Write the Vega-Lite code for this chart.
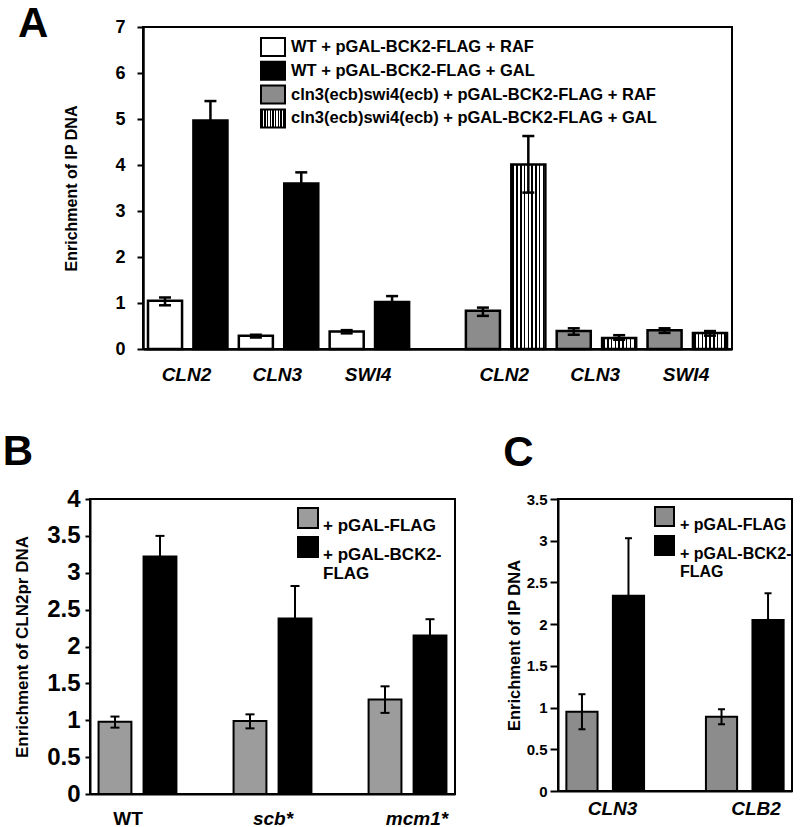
{
  "$schema": "https://vega.github.io/schema/vega-lite/v6.json",
  "background": "white",
  "padding": {"left": 1, "top": 2, "right": 0, "bottom": 4},
  "config": {
    "font": "Liberation Sans",
    "view": {"stroke": "black", "strokeWidth": 2},
    "axis": {
      "grid": false,
      "domainColor": "black",
      "domainWidth": 2,
      "tickColor": "black",
      "tickWidth": 2,
      "labelColor": "black",
      "labelFont": "Liberation Sans",
      "labelFontWeight": "bold",
      "labelOverlap": false,
      "titleColor": "black",
      "titleFont": "Liberation Sans",
      "titleFontWeight": "bold"
    },
    "legend": {
      "labelFont": "Liberation Sans",
      "labelFontWeight": "bold",
      "labelColor": "black",
      "symbolStrokeColor": "black",
      "symbolStrokeWidth": 2,
      "symbolOpacity": 1,
      "padding": 0,
      "labelLimit": 600
    },
    "title": {
      "font": "Liberation Sans",
      "fontSize": 42,
      "fontWeight": "bold",
      "color": "black",
      "anchor": "start",
      "frame": "bounds"
    }
  },
  "datasets": {
    "a": [
      {"slot": "CLN2 1 a", "cond": "WT + pGAL-BCK2-FLAG + RAF", "value": 1.05, "lo": 0.95, "hi": 1.12},
      {"slot": "CLN2 1 b", "cond": "WT + pGAL-BCK2-FLAG + GAL", "value": 4.97, "lo": 4.56, "hi": 5.39},
      {"slot": "CLN3 1 a", "cond": "WT + pGAL-BCK2-FLAG + RAF", "value": 0.29, "lo": 0.25, "hi": 0.31},
      {"slot": "CLN3 1 b", "cond": "WT + pGAL-BCK2-FLAG + GAL", "value": 3.6, "lo": 3.36, "hi": 3.84},
      {"slot": "SWI4 1 a", "cond": "WT + pGAL-BCK2-FLAG + RAF", "value": 0.38, "lo": 0.34, "hi": 0.41},
      {"slot": "SWI4 1 b", "cond": "WT + pGAL-BCK2-FLAG + GAL", "value": 1.02, "lo": 0.89, "hi": 1.15},
      {"slot": "CLN2 2 a", "cond": "cln3(ecb)swi4(ecb) + pGAL-BCK2-FLAG + RAF", "value": 0.83, "lo": 0.72, "hi": 0.9},
      {"slot": "CLN2 2 b", "cond": "cln3(ecb)swi4(ecb) + pGAL-BCK2-FLAG + GAL", "value": 4.01, "lo": 3.4, "hi": 4.63},
      {"slot": "CLN3 2 a", "cond": "cln3(ecb)swi4(ecb) + pGAL-BCK2-FLAG + RAF", "value": 0.39, "lo": 0.31, "hi": 0.45},
      {"slot": "CLN3 2 b", "cond": "cln3(ecb)swi4(ecb) + pGAL-BCK2-FLAG + GAL", "value": 0.24, "lo": 0.2, "hi": 0.3},
      {"slot": "SWI4 2 a", "cond": "cln3(ecb)swi4(ecb) + pGAL-BCK2-FLAG + RAF", "value": 0.41, "lo": 0.35, "hi": 0.45},
      {"slot": "SWI4 2 b", "cond": "cln3(ecb)swi4(ecb) + pGAL-BCK2-FLAG + GAL", "value": 0.35, "lo": 0.29, "hi": 0.39}
    ],
    "b": [
      {"slot": "WT a", "cond": "+ pGAL-FLAG", "value": 0.98, "lo": 0.9, "hi": 1.05},
      {"slot": "WT b", "cond": "+ pGAL-BCK2-FLAG", "value": 3.22, "lo": 2.94, "hi": 3.5},
      {"slot": "scb* a", "cond": "+ pGAL-FLAG", "value": 0.99, "lo": 0.89, "hi": 1.08},
      {"slot": "scb* b", "cond": "+ pGAL-BCK2-FLAG", "value": 2.38, "lo": 1.94, "hi": 2.82},
      {"slot": "mcm1* a", "cond": "+ pGAL-FLAG", "value": 1.28, "lo": 1.1, "hi": 1.46},
      {"slot": "mcm1* b", "cond": "+ pGAL-BCK2-FLAG", "value": 2.15, "lo": 1.93, "hi": 2.37}
    ],
    "c": [
      {"slot": "CLN3 a", "cond": "+ pGAL-FLAG", "value": 0.95, "lo": 0.74, "hi": 1.16},
      {"slot": "CLN3 b", "cond": "+ pGAL-BCK2-FLAG", "value": 2.34, "lo": 1.65, "hi": 3.03},
      {"slot": "CLB2 a", "cond": "+ pGAL-FLAG", "value": 0.89, "lo": 0.8, "hi": 0.98},
      {"slot": "CLB2 b", "cond": "+ pGAL-BCK2-FLAG", "value": 2.05, "lo": 1.73, "hi": 2.37}
    ]
  },
  "spacing": 45,
  "resolve": {"scale": {"color": "independent", "x": "independent", "y": "independent"}},
  "vconcat": [
    {
      "spacing": 43,
      "bounds": "flush",
      "resolve": {"scale": {"color": "independent", "x": "independent", "y": "independent"}},
      "hconcat": [
        {
          "width": 10,
          "height": 10,
          "data": {"values": []},
          "mark": "point",
          "view": {"stroke": null}
        },
        {
          "title": {"text": "A", "dx": -46, "offset": -28},
          "width": 589,
          "height": 322,
          "data": {"name": "a"},
          "encoding": {
            "x": {
              "field": "slot",
              "type": "nominal",
              "sort": null,
              "scale": {
                "domain": ["CLN2 1 a", "CLN2 1 b", "CLN3 1 a", "CLN3 1 b", "SWI4 1 a", "SWI4 1 b", "gap", "CLN2 2 a", "CLN2 2 b", "CLN3 2 a", "CLN3 2 b", "SWI4 2 a", "SWI4 2 b"],
                "paddingInner": 0.25,
                "paddingOuter": 0.11
              },
              "axis": {
                "title": null,
                "ticks": false,
                "labelAngle": 0,
                "labelFontSize": 19,
                "labelFontStyle": "italic",
                "labelPadding": 16,
                "labelOffset": -24,
                "domainWidth": 2.5,
                "labelExpr": "slice(datum.value, -1) === 'b' ? split(datum.value, ' ')[0] : ''"
              }
            }
          },
          "layer": [
            {
              "mark": {"type": "bar", "stroke": "black", "strokeWidth": 2.5},
              "encoding": {
                "y": {
                  "field": "value",
                  "type": "quantitative",
                  "scale": {"domain": [0, 7]},
                  "axis": {
                    "values": [0, 1, 2, 3, 4, 5, 6, 7],
                    "tickCount": 8,
                    "labelFontSize": 18,
                    "tickSize": 6,
                    "labelPadding": 12,
                    "domainWidth": 2.5,
                    "title": "Enrichment of IP DNA",
                    "titleFontSize": 16,
                    "titlePadding": 35
                  }
                },
                "color": {
                  "field": "cond",
                  "type": "nominal",
                  "scale": {
                    "domain": ["WT + pGAL-BCK2-FLAG + RAF", "WT + pGAL-BCK2-FLAG + GAL", "cln3(ecb)swi4(ecb) + pGAL-BCK2-FLAG + RAF", "cln3(ecb)swi4(ecb) + pGAL-BCK2-FLAG + GAL"],
                    "range": [
                      "white",
                      "black",
                      "#8c8c8c",
                      {"expr": "{gradient: 'linear', x1: 0, y1: 0, x2: 1, y2: 0, stops: [{offset: 0, color: 'white'}, {offset: 0.0336, color: 'white'}, {offset: 0.0336, color: 'black'}, {offset: 0.0776, color: 'black'}, {offset: 0.0776, color: 'white'}, {offset: 0.1447, color: 'white'}, {offset: 0.1447, color: 'black'}, {offset: 0.1887, color: 'black'}, {offset: 0.1887, color: 'white'}, {offset: 0.2558, color: 'white'}, {offset: 0.2558, color: 'black'}, {offset: 0.2998, color: 'black'}, {offset: 0.2998, color: 'white'}, {offset: 0.3669, color: 'white'}, {offset: 0.3669, color: 'black'}, {offset: 0.4109, color: 'black'}, {offset: 0.4109, color: 'white'}, {offset: 0.478, color: 'white'}, {offset: 0.478, color: 'black'}, {offset: 0.522, color: 'black'}, {offset: 0.522, color: 'white'}, {offset: 0.5891, color: 'white'}, {offset: 0.5891, color: 'black'}, {offset: 0.6331, color: 'black'}, {offset: 0.6331, color: 'white'}, {offset: 0.7002, color: 'white'}, {offset: 0.7002, color: 'black'}, {offset: 0.7442, color: 'black'}, {offset: 0.7442, color: 'white'}, {offset: 0.8113, color: 'white'}, {offset: 0.8113, color: 'black'}, {offset: 0.8553, color: 'black'}, {offset: 0.8553, color: 'white'}, {offset: 0.9224, color: 'white'}, {offset: 0.9224, color: 'black'}, {offset: 0.9664, color: 'black'}, {offset: 0.9664, color: 'white'}, {offset: 1, color: 'white'}]}"}
                    ]
                  },
                  "legend": {
                    "orient": "none",
                    "legendX": 120,
                    "legendY": 10,
                    "title": null,
                    "symbolType": "M-1.333,-1H1.333V1H-1.333Z",
                    "symbolSize": 324,
                    "labelFontSize": 16.5,
                    "labelOffset": 8,
                    "rowPadding": -2.2
                  }
                }
              }
            },
            {
              "mark": {"type": "rule", "color": "black", "strokeWidth": 2.5},
              "encoding": {"y": {"field": "lo", "type": "quantitative"}, "y2": {"field": "hi"}}
            },
            {
              "mark": {"type": "tick", "color": "black", "size": 12, "thickness": 2.5, "opacity": 1},
              "encoding": {"y": {"field": "lo", "type": "quantitative"}}
            },
            {
              "mark": {"type": "tick", "color": "black", "size": 12, "thickness": 2.5, "opacity": 1},
              "encoding": {"y": {"field": "hi", "type": "quantitative"}}
            }
          ]
        }
      ]
    },
    {
      "spacing": 46,
      "resolve": {"scale": {"color": "independent", "x": "independent", "y": "independent"}},
      "hconcat": [
        {
          "title": {"text": "B", "dx": -11, "offset": 13},
          "width": 365,
          "height": 295,
          "data": {"name": "b"},
          "encoding": {
            "x": {
              "field": "slot",
              "type": "nominal",
              "sort": null,
              "scale": {
                "domain": ["WT a", "WT b", "gap1", "scb* a", "scb* b", "gap2", "mcm1* a", "mcm1* b"],
                "paddingInner": 0.27,
                "paddingOuter": 0.19
              },
              "axis": {
                "title": null,
                "ticks": false,
                "labelAngle": 0,
                "labelFontSize": 19,
                "labelFontStyle": {"condition": {"test": "datum.value === 'WT b'", "value": "normal"}, "value": "italic"},
                "labelPadding": 15,
                "labelOffset": {
                  "condition": [
                    {"test": "datum.value === 'WT b'", "value": -32},
                    {"test": "datum.value === 'mcm1* b'", "value": -13}
                  ],
                  "value": -22
                },
                "labelExpr": "slice(datum.value, -1) === 'b' ? split(datum.value, ' ')[0] : ''"
              }
            }
          },
          "layer": [
            {
              "mark": {"type": "bar", "stroke": "black", "strokeWidth": 2},
              "encoding": {
                "y": {
                  "field": "value",
                  "type": "quantitative",
                  "scale": {"domain": [0, 4]},
                  "axis": {
                    "values": [0, 0.5, 1, 1.5, 2, 2.5, 3, 3.5, 4],
                    "tickCount": 9,
                    "format": "~g",
                    "labelFontSize": 24,
                    "tickSize": 5,
                    "labelPadding": 5,
                    "title": "Enrichment of CLN2pr DNA",
                    "titleFontSize": 17,
                    "titlePadding": 15
                  }
                },
                "color": {
                  "field": "cond",
                  "type": "nominal",
                  "scale": {"domain": ["+ pGAL-FLAG", "+ pGAL-BCK2-FLAG"], "range": ["#9c9c9c", "black"]},
                  "legend": {
                    "orient": "none",
                    "legendX": 207,
                    "legendY": 8,
                    "title": null,
                    "symbolType": "square",
                    "symbolSize": 400,
                    "labelFontSize": 17,
                    "labelOffset": 4,
                    "rowPadding": -1,
                    "labelBaseline": "top",
                    "labelExpr": "datum.label === '+ pGAL-BCK2-FLAG' ? ['+ pGAL-BCK2-', 'FLAG'] : datum.label"
                  }
                }
              }
            },
            {
              "mark": {"type": "rule", "color": "black", "strokeWidth": 2},
              "encoding": {"y": {"field": "lo", "type": "quantitative"}, "y2": {"field": "hi"}}
            },
            {
              "mark": {"type": "tick", "color": "black", "size": 9, "thickness": 2, "opacity": 1},
              "encoding": {"y": {"field": "lo", "type": "quantitative"}}
            },
            {
              "mark": {"type": "tick", "color": "black", "size": 9, "thickness": 2, "opacity": 1},
              "encoding": {"y": {"field": "hi", "type": "quantitative"}}
            }
          ]
        },
        {
          "title": {"text": "C", "dx": -3, "offset": 17},
          "width": 234,
          "height": 292,
          "data": {"name": "c"},
          "encoding": {
            "x": {
              "field": "slot",
              "type": "nominal",
              "sort": null,
              "scale": {
                "domain": ["CLN3 a", "CLN3 b", "gap", "CLB2 a", "CLB2 b"],
                "paddingInner": 0.33,
                "paddingOuter": 0.18
              },
              "axis": {
                "title": null,
                "ticks": false,
                "labelAngle": 0,
                "labelFontSize": 19,
                "labelFontStyle": "italic",
                "labelPadding": 8,
                "labelOffset": {
                  "condition": {"test": "datum.value === 'CLN3 b'", "value": -16},
                  "value": -12
                },
                "labelExpr": "slice(datum.value, -1) === 'b' ? split(datum.value, ' ')[0] : ''"
              }
            }
          },
          "layer": [
            {
              "mark": {"type": "bar", "stroke": "black", "strokeWidth": 2},
              "encoding": {
                "y": {
                  "field": "value",
                  "type": "quantitative",
                  "scale": {"domain": [0, 3.5]},
                  "axis": {
                    "values": [0, 0.5, 1, 1.5, 2, 2.5, 3, 3.5],
                    "tickCount": 8,
                    "format": "~g",
                    "labelFontSize": 15,
                    "tickSize": 8,
                    "labelPadding": 3,
                    "title": "Enrichment of IP DNA",
                    "titleFontSize": 16.5,
                    "titlePadding": 4
                  }
                },
                "color": {
                  "field": "cond",
                  "type": "nominal",
                  "scale": {"domain": ["+ pGAL-FLAG", "+ pGAL-BCK2-FLAG"], "range": ["#8c8c8c", "black"]},
                  "legend": {
                    "orient": "none",
                    "legendX": 96,
                    "legendY": 7,
                    "title": null,
                    "symbolType": "square",
                    "symbolSize": 361,
                    "labelFontSize": 16,
                    "labelOffset": 5,
                    "rowPadding": -1,
                    "labelBaseline": "top",
                    "labelExpr": "datum.label === '+ pGAL-BCK2-FLAG' ? ['+ pGAL-BCK2-', 'FLAG'] : datum.label"
                  }
                }
              }
            },
            {
              "mark": {"type": "rule", "color": "black", "strokeWidth": 2},
              "encoding": {"y": {"field": "lo", "type": "quantitative"}, "y2": {"field": "hi"}}
            },
            {
              "mark": {"type": "tick", "color": "black", "size": 7, "thickness": 2, "opacity": 1},
              "encoding": {"y": {"field": "lo", "type": "quantitative"}}
            },
            {
              "mark": {"type": "tick", "color": "black", "size": 7, "thickness": 2, "opacity": 1},
              "encoding": {"y": {"field": "hi", "type": "quantitative"}}
            }
          ]
        }
      ]
    }
  ]
}
